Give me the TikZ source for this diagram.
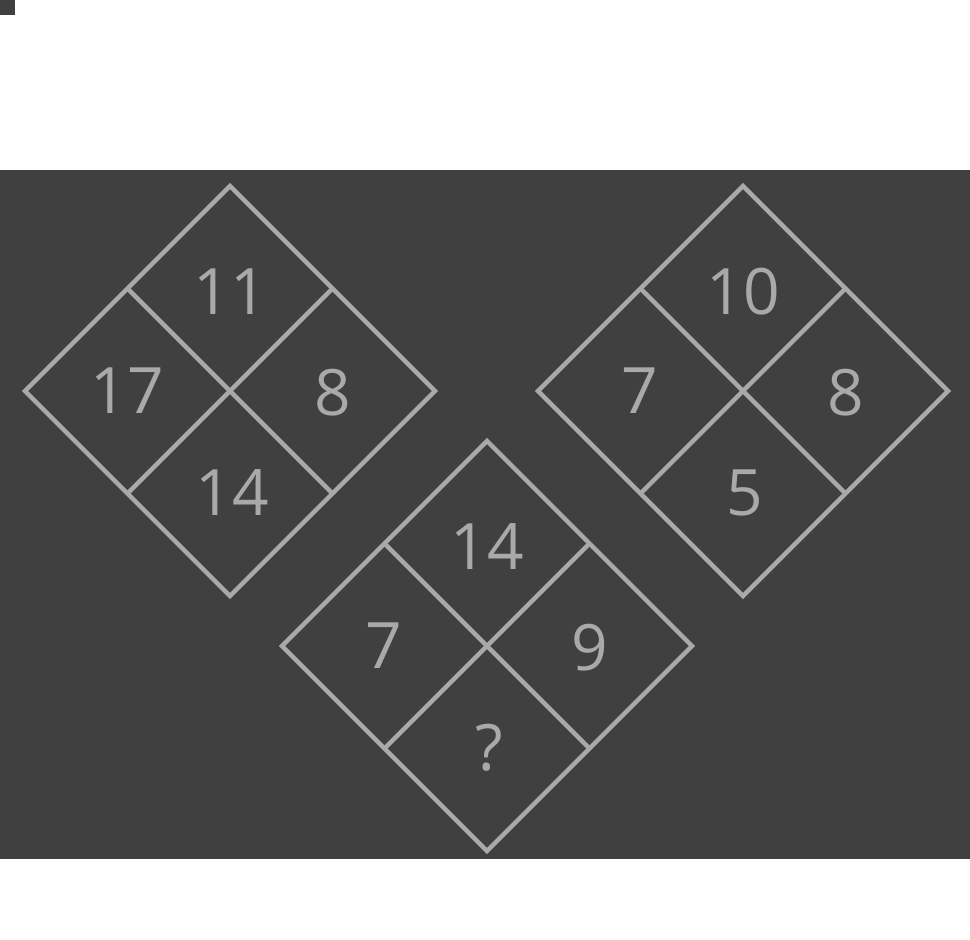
\documentclass[tikz,border=0pt]{standalone}
\usepackage{fontspec}
\setmainfont{Open Sans}
\definecolor{bg}{HTML}{404040}
\definecolor{ln}{HTML}{A9A9A9}
\tikzset{
  cell/.style={text=ln, font=\fontsize{64}{64}\selectfont, inner sep=0pt, anchor=center},
  grid/.style={draw=ln, line width=4.4pt, line join=miter},
}
\newcommand{\mydiamond}[7]{%
  % #1 name, #2 cx, #3 cy, #4 top, #5 left, #6 right, #7 bottom
  \coordinate (#1c) at (#2,#3);
  \coordinate (#1t) at ($(#1c)+(0,205)$);
  \coordinate (#1b) at ($(#1c)+(0,-205)$);
  \coordinate (#1l) at ($(#1c)+(-205,0)$);
  \coordinate (#1r) at ($(#1c)+(205,0)$);
  \draw[grid] (#1t) -- (#1r) -- (#1b) -- (#1l) -- cycle;
  \draw[grid] ($(#1t)!0.5!(#1l)$) -- ($(#1r)!0.5!(#1b)$);
  \draw[grid] ($(#1t)!0.5!(#1r)$) -- ($(#1l)!0.5!(#1b)$);
  \node[cell] (#1n1) at ($(#1c)+(0,99)$) {#4};
  \node[cell] (#1n2) at ($(#1c)+(-103,0)$) {#5};
  \node[cell] (#1n3) at ($(#1c)+(103,-2)$) {#6};
  \node[cell] (#1n4) at ($(#1c)+(2,-102)$) {#7};
}
\usetikzlibrary{calc}
\begin{document}
\begin{tikzpicture}[x=1pt,y=1pt]
\useasboundingbox (0,0) rectangle (970,-940);
\fill[bg] (0,0) rectangle (15,-15);
\fill[bg] (0,-170) rectangle (970,-859);
\mydiamond{a}{230}{-391}{11}{17}{8}{14}
\mydiamond{b}{743}{-391}{10}{7}{8}{5}
\mydiamond{c}{487}{-646}{14}{7}{9}{?}
\end{tikzpicture}
\end{document}
